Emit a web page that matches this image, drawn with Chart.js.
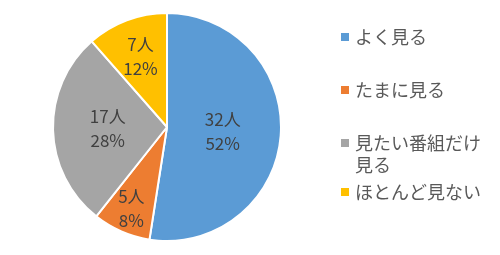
<!DOCTYPE html>
<html>
<head>
<meta charset="utf-8">
<script src="https://cdn.jsdelivr.net/npm/chart.js@4/dist/chart.umd.min.js"></script>
<style>
  html, body { margin: 0; padding: 0; background: #fff; }
  #wrap { width: 500px; height: 255px; position: relative; }
</style>
</head>
<body>
<div id="wrap"><canvas id="c" width="500" height="255"></canvas></div>
<script>
const categories = ['よく見る', 'たまに見る', '見たい番組だけ見る', 'ほとんど見ない'];
const legendLines = [['よく見る'], ['たまに見る'], ['見たい番組だけ', '見る'], ['ほとんど見ない']];
const counts = [32, 5, 17, 7];
const percents = [52, 8, 28, 12];

const colors = ['#5B9BD5', '#ED7D31', '#A5A5A5', '#FFC000'];
// how far out along the radius each label sits (Excel "best fit")
const labelRadius = [0.49, 0.78, 0.52, 0.66];
const FONT = '"Noto Sans CJK JP", "Noto Sans", sans-serif';

const sliceLabels = {
    id: 'sliceLabels',
    afterDatasetsDraw(chart) {
        const ctx = chart.ctx;
        const meta = chart.getDatasetMeta(0);
        ctx.save();
        ctx.font = '17px ' + FONT;
        ctx.fillStyle = '#404040';
        ctx.textAlign = 'center';
        ctx.textBaseline = 'middle';
        meta.data.forEach((arc, i) => {
            const p = arc.getProps(['x', 'y', 'startAngle', 'endAngle', 'outerRadius']);
            const mid = (p.startAngle + p.endAngle) / 2;
            const d = p.outerRadius * labelRadius[i];
            const x = p.x + Math.cos(mid) * d;
            const y = p.y + Math.sin(mid) * d;
            ctx.fillText(counts[i] + '人', x, y - 12);
            ctx.fillText(percents[i] + '%', x, y + 12);
        });
        ctx.restore();
    }
};

const sideLegend = {
    id: 'sideLegend',
    afterDraw(chart) {
        const ctx = chart.ctx;
        const rows = [37, 90, 143, 192];
        ctx.save();
        ctx.font = '18px ' + FONT;
        ctx.textBaseline = 'middle';
        ctx.textAlign = 'left';
        legendLines.forEach((lines, i) => {
            const y = rows[i];
            ctx.fillStyle = colors[i];
            ctx.fillRect(341, y - 4, 8, 8);
            ctx.fillStyle = '#595959';
            lines.forEach((t, j) => ctx.fillText(t, 355, y + j * 22));
        });
        ctx.restore();
    }
};

new Chart(document.getElementById('c'), {
    type: 'pie',
    data: {
        labels: categories,
        datasets: [{
            data: counts,
            backgroundColor: colors,
            borderColor: '#ffffff',
            borderWidth: 2
        }]
    },
    options: {
        responsive: false,
        animation: false,
        layout: { padding: { left: 52, right: 218, top: 12, bottom: 13 } },
        plugins: {
            legend: { display: false },
            tooltip: { enabled: false }
        }
    },
    plugins: [sliceLabels, sideLegend]
});
</script>
</body>
</html>
